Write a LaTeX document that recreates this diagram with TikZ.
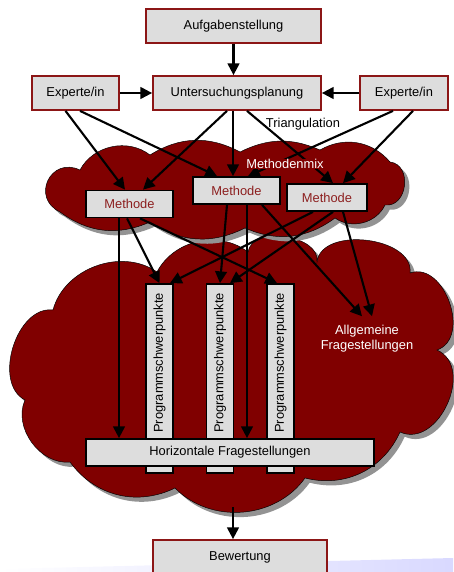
\documentclass[tikz,border=0pt]{standalone}
\usepackage{fontspec}
\setmainfont{Liberation Sans}
\usetikzlibrary{arrows.meta,calc,shadows}
\definecolor{darkred}{RGB}{128,0,0}
\definecolor{boxred}{RGB}{140,22,22}
\definecolor{boxgray}{RGB}{221,221,221}
\definecolor{methred}{RGB}{140,30,30}
\begin{document}
\begin{tikzpicture}[x=0.03cm, y=-0.03cm,
        font=\fontsize{11}{13}\selectfont,
        box/.style={rectangle, draw=boxred, line width=1.5pt, fill=boxgray, minimum height=1.02cm},
        methode/.style={rectangle, draw=black, line width=1.5pt, fill=boxgray, text=methred, minimum width=2.61cm, minimum height=0.81cm},
        balken/.style={rectangle, draw=black, line width=1.5pt, fill=boxgray, rotate=90, minimum width=5.67cm, minimum height=0.81cm, inner xsep=0pt, text width=5.13cm, align=right},
        wolke/.style={draw=black, fill=darkred, thin, drop shadow={shadow xshift=4pt, shadow yshift=-4pt, fill=gray!85, opacity=1}},
        arrow/.style={-{Triangle[length=10pt,width=10pt]}, line width=1.8pt}
    ]
        \useasboundingbox (0,0) rectangle (453,572);
        \shade[left color=white, right color=blue!15!white] (0,569) -- (453,558) -- (453,572) -- (0,572) -- cycle;

        % Wolken
        \draw[wolke] (53,310) to[bend left=55] (157,272) to[bend left=50] (248,252)
            to[bend left=90] (317,262) to[bend left=90] (410,273)
            to[bend left=90, looseness=1.15] (437,350) to[bend left=90, looseness=1.2] (400,432)
            to[bend left=40] (305,478) to[bend left=50] (175,488) to[bend left=40] (70,462)
            to[bend left=60] (25,400) to[bend left=80] (53,310) -- cycle;
        \draw[wolke] (60,212) to[bend left=90, looseness=1.8] (80,170) to[bend left=50] (150,155)
            to[bend left=30] (240,152) to[bend left=25] (320,150) to[bend left=40] (390,162)
            to[bend left=90, looseness=1.35] (385,205) to[bend left=50] (335,218)
            to[bend left=30] (245,228) to[bend left=30] (150,222) to[bend left=30] (60,212) -- cycle;

        % Planung
        \node[box, minimum width=5.25cm] (aufgabe) at (233.5,26) {Aufgabenstellung};
        \node[box, minimum width=5.04cm] (planung) at (237,93) {Untersuchungsplanung};
        \node[box, minimum width=2.61cm] (expl) at (75.5,93) {Experte/in};
        \node[box, minimum width=2.64cm] (expr) at (404,93) {Experte/in};
        \node (triang) at (303,124) {Triangulation};

        % Methoden
        \node[methode] (meth1) at (129.5,204) {Methode};
        \node[methode] (meth2) at (236.5,190.5) {Methode};
        \node[methode, minimum width=2.4cm] (meth3) at (327,197.5) {Methode};

        % Programmschwerpunkte
        \node[balken] (prog1) at (159.5,378.5) {Programmschwerpunkte};
        \node[balken] (prog2) at (220,378.5) {Programmschwerpunkte};
        \node[balken] (prog3) at (280.5,378.5) {Programmschwerpunkte};
        \node[methode, text=black, minimum width=8.64cm] (horiz) at (230,452.5) {Horizontale Fragestellungen};
        \node[text=white, align=center] (allg) at (367,339) {Allgemeine\\Fragestellungen};

        \node[box, minimum width=5.22cm] (bew) at (240,557) {Bewertung};
        \coordinate (wolkenrand) at (233,507);

        \draw[arrow] (aufgabe.south) -- (aufgabe.south |- planung.north);
        \draw[arrow] (expl) -- (planung);
        \draw[arrow] (expr) -- (planung);

        \draw[arrow] ($(expl.south)+(-10,0)$) -- ($(meth1.north)+(-4.5,0)$);
        \draw[arrow] ($(expl.south)+(4.5,0)$) -- ($(meth2.north)+(-19.5,0)$);
        \draw[arrow] ($(planung.south)+(-10,0)$) -- ($(meth1.north)+(13.5,0)$);
        \draw[arrow] ($(planung.south)+(-4,0)$) -- ($(meth2.north)+(-3.5,0)$);
        \draw[arrow] ($(planung.south)+(10,0)$) -- ($(meth3.north)+(6,0)$);
        \draw[arrow] ($(expr.south)+(-11,0)$) -- ($(meth2.north)+(11.5,0)$);
        \draw[arrow] ($(expr.south)+(9,0)$) -- ($(meth3.north)+(16,0)$);
        \node[text=white, fill=darkred, inner sep=0.5pt] (mix) at (285,164) {Methodenmix};

        \draw[arrow] ($(meth1.south)+(-10.5,0)$) coordinate (m1a) -- (m1a |- horiz.north);
        \draw[arrow] ($(meth1.south)+(-2.5,0)$) -- (prog1.east);
        \draw[arrow] ($(meth1.south)+(10.5,0)$) -- ($(prog3.east)+(-3.5,0)$);
        \draw[arrow] ($(meth2.south)+(-9.5,0)$) -- (prog2.east);
        \draw[arrow] ($(meth2.south)+(10.5,0)$) coordinate (m2a) -- (m2a |- horiz.north);
        \draw[arrow] ($(meth2.south)+(25.5,0)$) -- ($(allg.north)+(-5,-5)$);
        \draw[arrow] ($(meth3.south)+(-14,0)$) -- ($(prog1.east)+(10.5,0)$);
        \draw[arrow] ($(meth3.south)+(6,0)$) -- ($(prog2.east)+(10,0)$);
        \draw[arrow] ($(meth3.south)+(16,0)$) -- ($(allg.north)+(5,-5)$);

        \draw[arrow] (wolkenrand) -- (wolkenrand |- bew.north);
    \end{tikzpicture}
\end{document}
